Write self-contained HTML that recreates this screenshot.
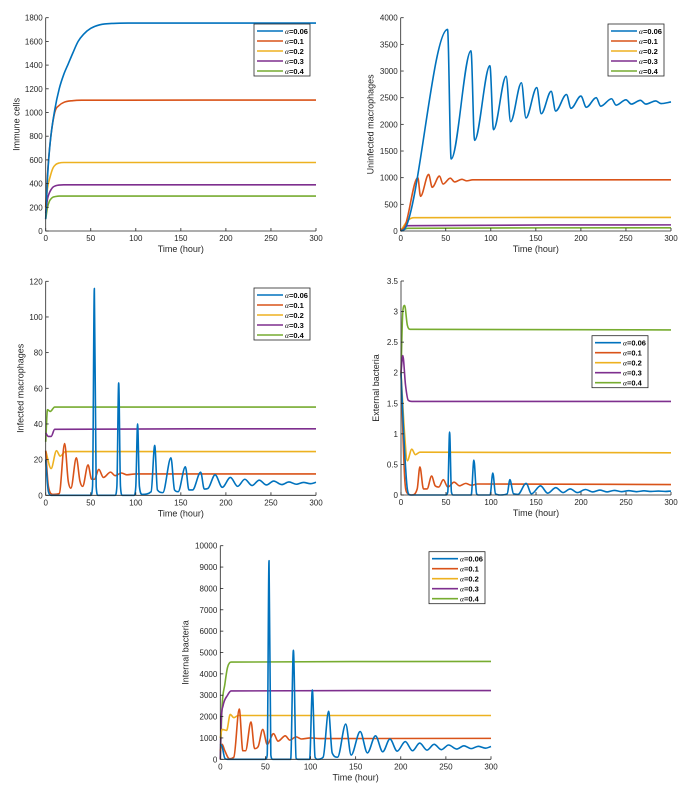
<!DOCTYPE html>
<html><head><meta charset="utf-8"><style>
html,body{margin:0;padding:0;background:#fff;}
svg{display:block;font-family:"Liberation Sans",sans-serif;}
</style></head><body>
<svg id="fig" width="690" height="792" viewBox="0 0 690 792" xmlns="http://www.w3.org/2000/svg"></svg>
<script>
// ---- shared ----
const seriesLabels = ["0.06","0.1","0.2","0.3","0.4"];
const xTicks = [0,50,100,150,200,250,300];

// ---- plot 1: immune cells ----
const p1YTicks = [0,200,400,600,800,1000,1200,1400,1600,1800];
const p1T0 = [0,2,5,10,15,20,25,30,36,42,50,60,75,100,300];
const p1V0 = [100,450,750,1020,1200,1320,1410,1500,1600,1660,1710,1740,1752,1755,1755];
const p1T1 = [0,2,5,10,15,20,30,40,300];
const p1V1 = [200,480,750,1000,1060,1085,1100,1104,1105];
const p1T2 = [0,2,5,8,11,15,20,300];
const p1V2 = [200,360,460,530,560,574,578,578];
const p1T3 = [0,2,4,6,8,11,15,20,300];
const p1V3 = [150,270,320,350,370,382,388,390,390];
const p1T4 = [0,2,4,6,8,11,15,300];
const p1V4 = [100,200,250,272,285,291,295,295];

// ---- plot 2: uninfected macrophages ----
const p2YTicks = [0,500,1000,1500,2000,2500,3000,3500,4000];
const p2T0 = [0,5,52,56,78,82,99,103,117,122,134,139,151,156,167,172,184,189,200,206,217,222,234,239,250,256,266,272,283,289,300];
const p2V0 = [0,50,3780,1350,3380,1700,3100,1900,2900,2050,2780,2120,2690,2200,2620,2250,2560,2300,2530,2320,2500,2340,2480,2360,2460,2380,2450,2380,2440,2390,2420];
const p2T1 = [0,5,19,22,31,35,43,47,55,60,68,73,80,300];
const p2V1 = [0,100,1000,650,1060,820,1030,880,990,920,970,940,960,960];
const p2T2 = [0,8,15,300];
const p2V2 = [0,200,250,255];
const p2T3 = [0,8,300];
const p2V3 = [0,100,115];
const p2T4 = [0,8,300];
const p2V4 = [0,50,60];

// ---- plot 3: infected macrophages ----
const p3YTicks = [0,20,40,60,80,100,120];
const p3T0 = [0,3,6,50,52,54,56,58,77,79,81,83,85,98,100,102,104,107,117,121,124,130,139,143,147,155,159,163,172,176,180,188,196,205,213,221,229,237,245,253,262,270,278,286,294,300];
const p3V0 = [20,2,0,0,5,116,5,0,0,5,63,5,0,0,5,40,5,0.5,2,28,3,1.5,21,3,2,16,3,3,13,3.5,3.8,11.5,4.5,10,5,9,5.5,8.5,5.8,8,6,7.5,6.2,7.2,6.5,7.3];
const p3T1 = [0,3,8,15,21,25,28,34,38,41,47,51,54,59,64,72,77,84,90,100,300];
const p3V1 = [25,5,0.5,1,29,8,4,21,8,5,17,9,9,14.5,10,13,11,12.5,11.5,12,12];
const p3T2 = [0,6,12,16,22,300];
const p3V2 = [25,15,25,22,24.5,24.5];
const p3T3 = [0,3,6,10,300];
const p3V3 = [35,33,33,37,37.3];
const p3T4 = [0,2,5,10,300];
const p3V4 = [30,48,47,49.5,49.5];

// ---- plot 4: external bacteria ----
const p4YTicks = [0,0.5,1,1.5,2,2.5,3,3.5];
const p4T0 = [0,3,7,10,50,52,54,56,58,78,81,84,86,99,102,105,110,118,121,125,130,139,145,155,163,172,180,188,196,205,213,221,229,237,245,253,262,270,278,286,294,300];
const p4V0 = [2,1,0.1,0,0,0.05,1.03,0.05,0,0,0.57,0.02,0,0,0.36,0.02,0,0.02,0.25,0.02,0.01,0.19,0.02,0.15,0.03,0.12,0.04,0.1,0.04,0.09,0.05,0.08,0.05,0.075,0.055,0.07,0.055,0.068,0.058,0.065,0.058,0.065];
const p4T1 = [0,4,7,12,18,21,25,29,34,38,42,47,52,59,65,72,78,85,300];
const p4V1 = [2,0.3,0.03,0,0.1,0.46,0.1,0.1,0.31,0.15,0.13,0.25,0.13,0.21,0.15,0.19,0.16,0.18,0.17];
const p4T2 = [0,4,7,12,16,21,300];
const p4V2 = [2,1,0.56,0.75,0.66,0.7,0.69];
const p4T3 = [0,2,5,8,12,300];
const p4V3 = [2,2.28,1.8,1.55,1.53,1.53];
const p4T4 = [0,2,4,7,10,300];
const p4V4 = [2,3,3.1,2.78,2.71,2.7];

// ---- plot 5: internal bacteria ----
const p5YTicks = [0,1000,2000,3000,4000,5000,6000,7000,8000,9000,10000];
const p5T0 = [0,2,5,8,50,52,54,56,58,78,81,84,86,99,102,105,108,114,120,124,130,139,145,155,163,172,180,188,196,205,213,221,229,237,245,253,262,270,278,286,294,300];
const p5V0 = [700,600,50,0,0,200,9300,200,0,0,5100,50,0,0,3250,100,0,100,2250,300,100,1650,200,1300,300,1100,350,950,380,830,400,760,430,700,450,670,480,630,500,610,520,600];
const p5T1 = [0,2,5,10,15,21,25,28,34,38,42,47,52,59,64,72,77,84,90,100,110,300];
const p5V1 = [400,700,400,30,100,2350,400,400,1750,500,600,1400,700,1200,850,1100,900,1050,950,1000,970,980];
const p5T2 = [0,2,7,11,15,20,300];
const p5V2 = [1000,1400,1350,2100,1950,2050,2050];
const p5T3 = [0,1,3,8,12,300];
const p5V3 = [0,1800,2500,3000,3200,3220];
const p5T4 = [0,2,5,8,12,300];
const p5V4 = [0,2500,3500,4300,4550,4580];

const colors = ["#0072BD","#D95319","#EDB120","#7E2F8E","#77AC30"];
const NS = "http://www.w3.org/2000/svg";
const fig = document.getElementById("fig");
function mk(tag, attrs, parent){
  const e = document.createElementNS(NS, tag);
  for (const k in attrs) e.setAttribute(k, attrs[k]);
  (parent||fig).appendChild(e);
  return e;
}

function monoPath(px, py){
  const n = px.length;
  if (n < 3) return "M" + px.map((x,i)=>x.toFixed(2)+","+py[i].toFixed(2)).join(" L");
  const d = [], m = new Array(n);
  for (let i=0;i<n-1;i++) d.push((py[i+1]-py[i])/(px[i+1]-px[i]));
  m[0]=d[0]; m[n-1]=d[n-2];
  for (let i=1;i<n-1;i++) m[i] = (d[i-1]*d[i] <= 0) ? 0 : (d[i-1]+d[i])/2;
  for (let i=0;i<n-1;i++){
    if (d[i]===0){ m[i]=0; m[i+1]=0; continue; }
    const a=m[i]/d[i], b=m[i+1]/d[i], s=a*a+b*b;
    if (s>9){ const t=3/Math.sqrt(s); m[i]=t*a*d[i]; m[i+1]=t*b*d[i]; }
  }
  let p = "M"+px[0].toFixed(2)+","+py[0].toFixed(2);
  for (let i=0;i<n-1;i++){
    const h=(px[i+1]-px[i])/3;
    p += " C"+(px[i]+h).toFixed(2)+","+(py[i]+m[i]*h).toFixed(2)+" "+(px[i+1]-h).toFixed(2)+","+(py[i+1]-m[i+1]*h).toFixed(2)+" "+px[i+1].toFixed(2)+","+py[i+1].toFixed(2);
  }
  return p;
}

function drawPlot(cfg){
  const g = mk("g", {});
  
  
  const L=cfg.box[0], R=cfg.box[1], T=cfg.box[2], B=cfg.box[3];
  const ymax = cfg.yTicks[cfg.yTicks.length-1];
  const xs = v => L + (v/300)*(R-L);
  const ys = v => B - (v/ymax)*(B-T);
  for (let i=cfg.series.length-1;i>=0;i--){
    const s = cfg.series[i];
    const pl = mk("path", {d:monoPath(s.t.map(xs), s.v.map(ys)), fill:"none", stroke:colors[i], "stroke-width":1.6, "stroke-linejoin":"round"}, g);
    
    
  }
  const ax = mk("path", {d:`M${L},${T} L${L},${B} L${R},${B}`, fill:"none", stroke:"#262626", "stroke-width":0.8}, g);
  
  
  xTicks.forEach(v=>{
    const x=xs(v);
    mk("line",{x1:x,x2:x,y1:B,y2:B-3,stroke:"#262626","stroke-width":0.8},g);
    const t = mk("text",{x:x,y:B+10,"font-size":8,"text-anchor":"middle",fill:"#262626"},g);
    t.textContent=v;
    
    
  });
  cfg.yTicks.forEach(v=>{
    const y=ys(v);
    mk("line",{x1:L,x2:L+3,y1:y,y2:y,stroke:"#262626","stroke-width":0.8},g);
    const t = mk("text",{x:L-3,y:y+3,"font-size":8,"text-anchor":"end",fill:"#262626"},g);
    t.textContent=v;
    
    
  });
  const xl = mk("text",{x:(L+R)/2,y:B+21,"font-size":9,"text-anchor":"middle",fill:"#262626"},g);
  xl.textContent="Time (hour)";
  
  
  const yx = L-cfg.ylOff, yy=(T+B)/2;
  const yl = mk("text",{x:yx,y:yy,"font-size":9,"text-anchor":"middle",fill:"#262626",transform:`rotate(-90 ${yx} ${yy})`},g);
  yl.textContent=cfg.ylabel;
  
  
  const [lx,ly] = cfg.legend;
  const lg = mk("g",{},g);
  
  
  mk("rect",{x:lx,y:ly,width:56,height:52,fill:"#fff",stroke:"#262626","stroke-width":0.8},lg);
  seriesLabels.forEach((lab,i)=>{
    const y = ly+7+i*10;
    mk("line",{x1:lx+3,x2:lx+29,y1:y,y2:y,stroke:colors[i],"stroke-width":1.6},lg);
    const t = mk("text",{x:lx+31,y:y+3,"font-size":7.5,fill:"#000"},lg);
    const a = mk("tspan",{"font-family":"Liberation Serif, serif","font-style":"italic"},t);
    a.textContent="α";
    const b = mk("tspan",{"font-weight":"bold"},t);
    b.textContent="="+lab;
    
    
  });
}

drawPlot({name:"immune-cells-chart", box:[45.7,316,17.7,231], yTicks:p1YTicks, ylabel:"Immune cells", ylOff:26, legend:[254,24],
  series:[{t:p1T0,v:p1V0},{t:p1T1,v:p1V1},{t:p1T2,v:p1V2},{t:p1T3,v:p1V3},{t:p1T4,v:p1V4}]});
drawPlot({name:"uninfected-macrophages-chart", box:[400.7,671,17.7,231], yTicks:p2YTicks, ylabel:"Uninfected macrophages", ylOff:27, legend:[608,24],
  series:[{t:p2T0,v:p2V0},{t:p2T1,v:p2V1},{t:p2T2,v:p2V2},{t:p2T3,v:p2V3},{t:p2T4,v:p2V4}]});
drawPlot({name:"infected-macrophages-chart", box:[45.7,316,281.3,495.3], yTicks:p3YTicks, ylabel:"Infected macrophages", ylOff:22, legend:[254,288],
  series:[{t:p3T0,v:p3V0},{t:p3T1,v:p3V1},{t:p3T2,v:p3V2},{t:p3T3,v:p3V3},{t:p3T4,v:p3V4}]});
drawPlot({name:"external-bacteria-chart", box:[401,671,281,495], yTicks:p4YTicks, ylabel:"External bacteria", ylOff:22, legend:[592,335.7],
  series:[{t:p4T0,v:p4V0},{t:p4T1,v:p4V1},{t:p4T2,v:p4V2},{t:p4T3,v:p4V3},{t:p4T4,v:p4V4}]});
drawPlot({name:"internal-bacteria-chart", box:[220.3,491,545.7,759.3], yTicks:p5YTicks, ylabel:"Internal bacteria", ylOff:32, legend:[429,551.7],
  series:[{t:p5T0,v:p5V0},{t:p5T1,v:p5V1},{t:p5T2,v:p5V2},{t:p5T3,v:p5V3},{t:p5T4,v:p5V4}]});
</script>
</body></html>
